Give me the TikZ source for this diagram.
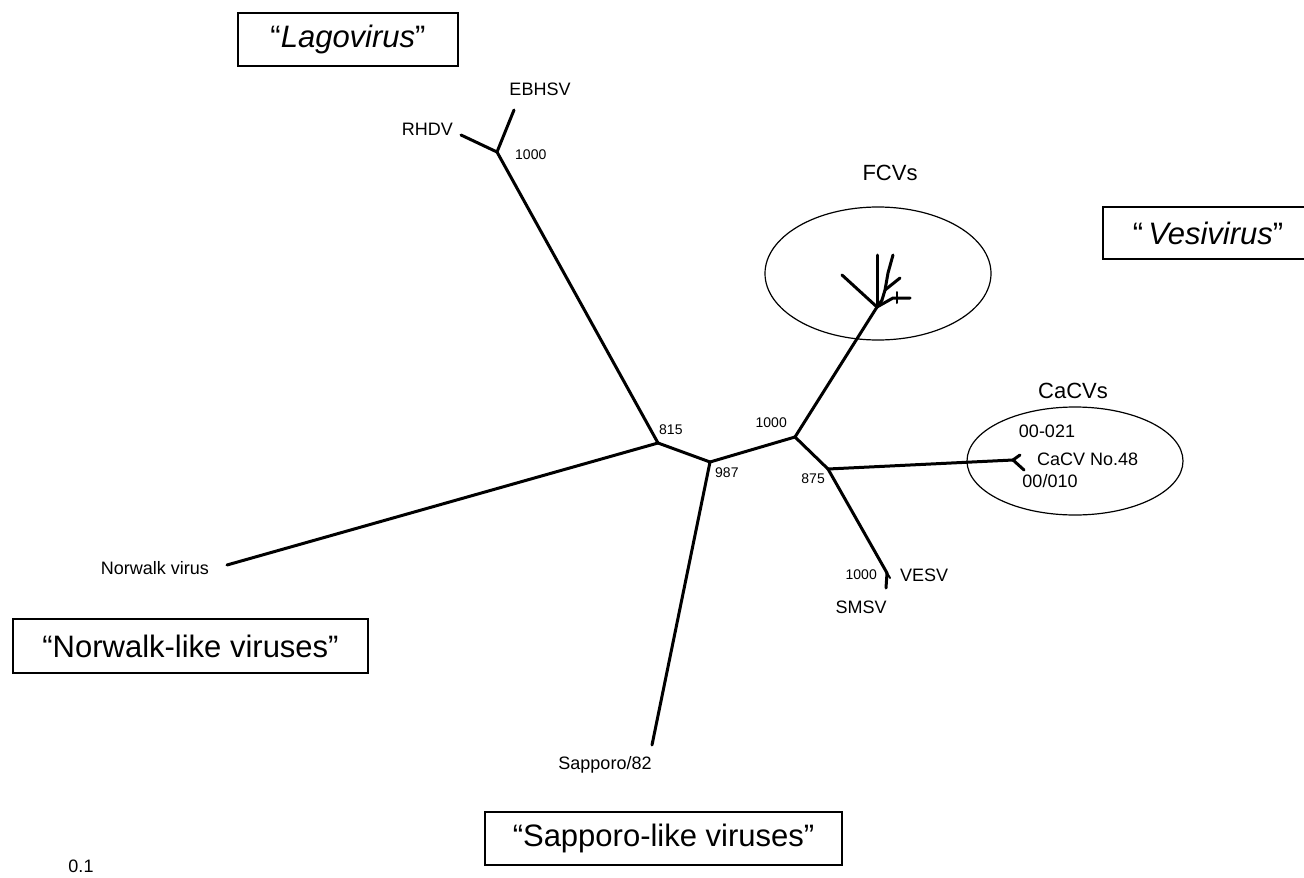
\documentclass[tikz,border=0pt]{standalone}
\usepackage{fontspec}
\setmainfont{Liberation Sans}
\usetikzlibrary{shapes.geometric}
\begin{document}
\begin{tikzpicture}[x=1pt,y=-1pt,
  branch/.style={line width=3pt, line cap=round, line join=round},
  leaf/.style={font=\fontsize{18}{20}\selectfont, inner sep=0pt, text height=0.72em, text depth=0pt},
  boot/.style={font=\fontsize{14}{16}\selectfont, inner sep=0pt, text height=0.72em, text depth=0pt},
  grp/.style={font=\fontsize{22}{24}\selectfont, inner sep=0pt, text height=0.72em, text depth=0pt},
  clade/.style={draw, line width=1.4pt, rectangle, inner sep=0pt, font=\fontsize{31}{33}\selectfont},
  hull/.style={draw, line width=1.2pt, ellipse, inner sep=0pt}
]
\useasboundingbox (0,0) rectangle (1304,878);
\fill[white] (0,0) rectangle (1304,878);

% clade boxes
\node[clade, minimum width=220pt, minimum height=53pt] (lagobox) at (348,39.5) {“\textit{Lagovirus}”};
\node[clade, minimum width=210pt, minimum height=52pt] (vesibox) at (1208,233) {“\,\textit{Vesivirus}”};
\node[clade, minimum width=355pt, minimum height=54pt] (nlvbox) at (190.5,646) {“Norwalk-like viruses”};
\node[clade, minimum width=357pt, minimum height=53pt] (slvbox) at (663.5,838.5) {“Sapporo-like viruses”};

% hulls
\node[hull, minimum width=226pt, minimum height=133pt] (fcvhull) at (878,273.5) {};
\node[hull, minimum width=216pt, minimum height=108pt] (cacvhull) at (1075,461) {};

% tree coordinates
\coordinate (n815) at (658,443);
\coordinate (n987) at (710,462);
\coordinate (v1000) at (795,437);
\coordinate (n875) at (828,469);
\coordinate (lago) at (497,152);
\coordinate (rhdv) at (461,135);
\coordinate (ebhsv) at (514,110);
\coordinate (norwalk) at (227,565);
\coordinate (sapporo) at (652,745);
\coordinate (fcv) at (877,307);
\coordinate (cacvf) at (1013,460);
\coordinate (cacva) at (1020,455);
\coordinate (cacvb) at (1024,470);
\coordinate (vesv) at (887,573);
\coordinate (smsv) at (886,588);
\coordinate (vesvt) at (890,578);
% FCV subtree
\coordinate (fa) at (882,300);
\coordinate (fd) at (885,290);
\coordinate (fb) at (888,273);
\coordinate (f1) at (842,275);
\coordinate (f2) at (877,255);
\coordinate (f3) at (893,255);
\coordinate (f4) at (900,278);
\coordinate (fe) at (893,298);
\coordinate (f5) at (910,298);
\coordinate (fet) at (897,292);
\coordinate (feb) at (897,303);

% branches
\draw[branch] (norwalk) -- (n815);
\draw[branch] (n815) -- (lago);
\draw[branch] (lago) -- (rhdv);
\draw[branch] (lago) -- (ebhsv);
\draw[branch] (n815) -- (n987);
\draw[branch] (n987) -- (sapporo);
\draw[branch] (n987) -- (v1000);
\draw[branch] (v1000) -- (fcv);
\draw[branch] (v1000) -- (n875);
\draw[branch] (n875) -- (cacvf);
\draw[branch] (cacvf) -- (cacva);
\draw[branch] (cacvf) -- (cacvb);
\draw[branch] (n875) -- (vesv);
\draw[branch] (vesv) -- (smsv);
\draw[branch, line width=2pt] (vesv) -- (vesvt);
\draw[branch] (fcv) -- (f1);
\draw[branch] (fcv) -- (f2);
\draw[branch] (fcv) -- (fa) -- (fd) -- (fb) -- (f3);
\draw[branch] (fd) -- (f4);
\draw[branch] (fcv) -- (fe) -- (f5);
\draw[branch, line width=2pt] (fet) -- (feb);

% leaf labels
\node[leaf, anchor=east] (lrhdv) at (453,132) {RHDV};
\node[leaf] (lebhsv) at (540,92) {EBHSV};
\node[leaf] (lnorwalk) at (155,571) {Norwalk virus};
\node[leaf] (lsapporo) at (605,766) {Sapporo/82};
\node[leaf, anchor=west] (lvesv) at (900,578) {VESV};
\node[leaf] (lsmsv) at (861,610) {SMSV};
\node[leaf] (l021) at (1047,434) {00-021};
\node[leaf, anchor=west] (l48) at (1037,462) {CaCV No.48};
\node[leaf] (l010) at (1050,484) {00/010};
\node[leaf] (lscale) at (81,869) {0.1};

% group labels
\node[grp] (lfcvs) at (890,177) {FCVs};
\node[grp] (lcacvs) at (1073,395) {CaCVs};

% bootstrap values
\node[boot, anchor=west] (b1) at (515,156) {1000};
\node[boot, anchor=west] (b815) at (659,431) {815};
\node[boot, anchor=west] (b987) at (715,474) {987};
\node[boot, anchor=east] (b2) at (787,424) {1000};
\node[boot, anchor=east] (b875) at (825,480) {875};
\node[boot, anchor=east] (b3) at (877,576) {1000};
\end{tikzpicture}
\end{document}
